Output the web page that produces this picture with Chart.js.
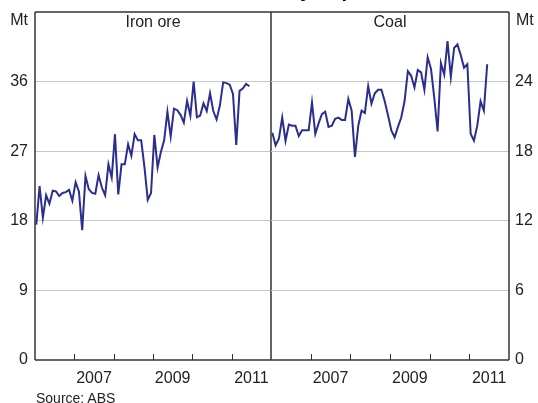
<!DOCTYPE html>
<html>
<head>
<meta charset="utf-8">
<script src="https://cdn.jsdelivr.net/npm/chart.js@4.4.0/dist/chart.umd.min.js"></script>
<style>
  body { margin: 0; background: #fff; font-family: "Liberation Sans", Arial, sans-serif; }
  #wrap { position: relative; width: 538px; height: 403px; overflow: hidden; }
  #leftChart { position: absolute; left: 0; top: 0; }
  #rightChart { position: absolute; left: 271px; top: 0; }
  #title { position: absolute; left: 0; width: 544px; top: -20px; text-align: center;
           font-size: 20px; line-height: 20px; font-weight: bold; color: #000; }
  #source { position: absolute; left: 36px; top: 391px; font-size: 14px; line-height: 14px; color: #222; }
</style>
</head>
<body>
<div id="wrap">
  <canvas id="leftChart" width="273" height="403"></canvas>
  <canvas id="rightChart" width="267" height="403"></canvas>
  <div id="title">Bulk Commodity Exports</div>
  <div id="source">Source: ABS</div>
</div>
<script>
// monthly, Jan 2006 to Jun 2011 (Mt)
const ironOre = [
  17.5, 22.5, 18.4, 21.3, 20.2, 21.9, 21.8, 21.2, 21.6, 21.7, 22.0, 20.6,
  23.0, 21.8, 16.8, 23.8, 22.1, 21.6, 21.5, 23.9, 22.3, 21.3, 25.3, 23.6,
  29.2, 21.4, 25.3, 25.3, 27.9, 26.4, 29.2, 28.4, 28.4, 24.9, 20.7, 21.6,
  29.1, 24.9, 26.9, 28.4, 32.1, 28.9, 32.5, 32.3, 31.7, 30.7, 33.5, 31.6,
  36.0, 31.4, 31.6, 33.2, 32.2, 34.5, 32.2, 31.1, 32.9, 35.9, 35.8, 35.6,
  34.4, 27.8, 34.8, 35.1, 35.7, 35.4
];
const coal = [
  19.6, 18.5, 19.1, 20.9, 18.9, 20.3, 20.2, 20.2, 19.3, 19.8, 19.8, 19.8,
  22.2, 19.5, 20.4, 21.2, 21.4, 20.1, 20.2, 20.8, 20.9, 20.7, 20.7, 22.5,
  21.5, 17.5, 20.2, 21.5, 21.3, 23.6, 22.1, 23.0, 23.3, 23.3, 22.3, 21.1,
  19.8, 19.2, 20.1, 20.9, 22.3, 24.9, 24.5, 23.5, 25.0, 24.8, 23.3, 26.1,
  25.1, 22.6, 19.7, 25.6, 24.6, 27.5, 24.4, 26.9, 27.2, 26.3, 25.2, 25.5,
  19.5, 18.9, 20.2, 22.3, 21.5, 25.5
];
const panelTitles = ['Iron ore', 'Coal'];
const yearLabels = ['2007', '2009', '2011'];
const yearLabelMonths = [18, 42, 66];   // mid-year, months since Jan 2006
const leftTicks = [0, 9, 18, 27, 36, 45];
const rightTicks = [0, 6, 12, 18, 24, 30];

Chart.defaults.font.family = "'Liberation Sans', Arial, sans-serif";
Chart.defaults.font.size = 16;
Chart.defaults.color = '#222';

const lineColor = '#2b2e8e';
const frameColor = '#333';

const toPoints = arr => arr.map((v, i) => ({ x: i + 0.4, y: v }));

// frame, inward year ticks, panel title and unit label
const panelDecor = {
  id: 'panelDecor',
  afterDraw(chart, args, opts) {
    const { ctx, chartArea: a, scales } = chart;
    ctx.save();
    ctx.strokeStyle = frameColor;
    ctx.lineWidth = 1.5;
    ctx.beginPath();
    ctx.moveTo(a.left, a.top); ctx.lineTo(a.right, a.top);
    ctx.moveTo(a.left, a.bottom); ctx.lineTo(a.right, a.bottom);
    if (opts.side === 'left') { ctx.moveTo(a.left, a.top); ctx.lineTo(a.left, a.bottom); }
    ctx.moveTo(a.right, a.top); ctx.lineTo(a.right, a.bottom);
    ctx.stroke();
    ctx.lineWidth = 1;
    ctx.beginPath();
    for (let m = 12; m < 72; m += 12) {
      const x = Math.round(scales.x.getPixelForValue(m)) + 0.5;
      ctx.moveTo(x, a.bottom); ctx.lineTo(x, a.bottom - 6);
    }
    ctx.stroke();
    ctx.fillStyle = '#222';
    ctx.font = "16px 'Liberation Sans', Arial, sans-serif";
    ctx.textBaseline = 'alphabetic';
    ctx.textAlign = 'center';
    ctx.fillText(opts.title, (a.left + a.right) / 2, 27);
    if (opts.side === 'left') {
      ctx.textAlign = 'right';
      ctx.fillText('Mt', a.left - 7, 25);
    } else {
      ctx.textAlign = 'left';
      ctx.fillText('Mt', a.right + 7, 25);
    }
    ctx.restore();
  }
};

function makePanel(canvasId, values, yTicks, side, title) {
  const yMax = yTicks[yTicks.length - 1];
  return new Chart(document.getElementById(canvasId), {
    type: 'line',
    data: {
      datasets: [{
        data: toPoints(values),
        borderColor: lineColor,
        borderWidth: 2,
        pointRadius: 0,
        tension: 0,
        fill: false
      }]
    },
    options: {
      responsive: false,
      animation: false,
      layout: { padding: side === 'left' ? { top: 12, right: 2, left: 0, bottom: 0 } : { top: 12, left: 0, right: 0, bottom: 0 } },
      plugins: {
        legend: { display: false },
        tooltip: { enabled: false },
        panelDecor: { side: side, title: title }
      },
      scales: {
        x: {
          type: 'linear',
          min: 0,
          max: 72,
          afterBuildTicks: s => { s.ticks = yearLabelMonths.map(v => ({ value: v })); },
          afterFit: s => { s.height = 43; s.paddingLeft = 0; s.paddingRight = 0; },
          grid: { display: false },
          border: { display: false },
          ticks: {
            padding: 1,
            maxRotation: 0,
            autoSkip: false,
            callback: (v) => yearLabels[yearLabelMonths.indexOf(v)]
          }
        },
        y: {
          position: side,
          min: 0,
          max: yMax,
          afterBuildTicks: s => { s.ticks = yTicks.map(v => ({ value: v })); },
          afterFit: s => { s.width = side === 'left' ? 35 : 29; s.paddingTop = 0; s.paddingBottom = 0; },
          grid: {
            drawTicks: false,
            lineWidth: 1,
            color: c => (c.tick && (c.tick.value === 0 || c.tick.value === yMax)) ? 'rgba(0,0,0,0)' : '#c8c8c8'
          },
          border: { display: false },
          ticks: {
            padding: side === 'left' ? 7 : 6,
            callback: v => v === yMax ? '' : v
          }
        }
      }
    },
    plugins: [panelDecor]
  });
}

makePanel('leftChart', ironOre, leftTicks, 'left', panelTitles[0]);
makePanel('rightChart', coal, rightTicks, 'right', panelTitles[1]);
</script>
</body>
</html>
